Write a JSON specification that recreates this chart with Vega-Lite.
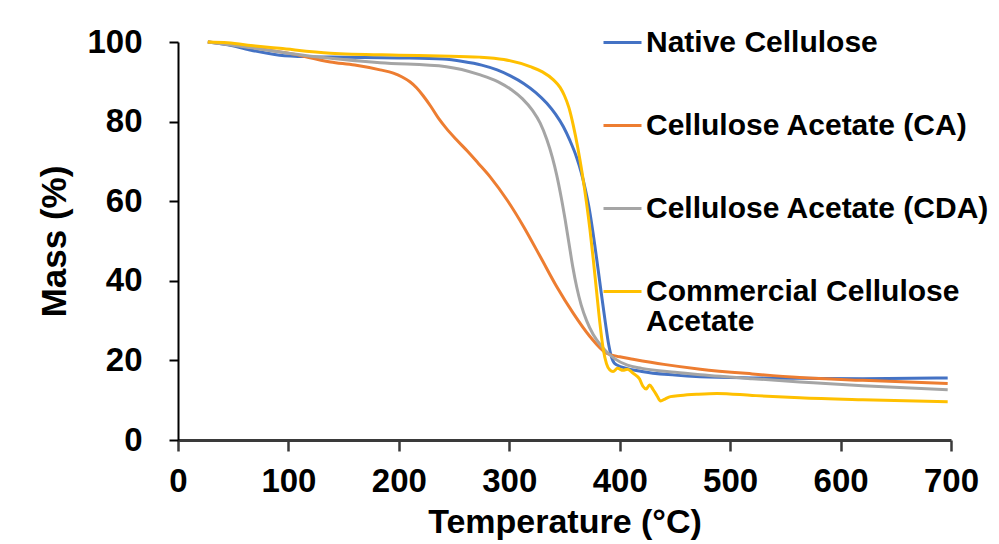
{
  "$schema": "https://vega.github.io/schema/vega-lite/v6.json",
  "width": 773,
  "height": 398,
  "autosize": {"type": "none"},
  "padding": {"left": 178, "top": 42, "right": 48, "bottom": 104},
  "background": "white",
  "config": {
    "view": {"stroke": null},
    "font": "Liberation Sans"
  },
  "data": {
    "values": [
      {"s": "Native Cellulose", "T": 27, "M": 100},
      {"s": "Native Cellulose", "T": 45, "M": 99.3},
      {"s": "Native Cellulose", "T": 65, "M": 98},
      {"s": "Native Cellulose", "T": 92, "M": 96.7},
      {"s": "Native Cellulose", "T": 120, "M": 96.3},
      {"s": "Native Cellulose", "T": 138, "M": 96.2},
      {"s": "Native Cellulose", "T": 200, "M": 96},
      {"s": "Native Cellulose", "T": 240, "M": 95.7},
      {"s": "Native Cellulose", "T": 258, "M": 95.1},
      {"s": "Native Cellulose", "T": 275, "M": 94.2},
      {"s": "Native Cellulose", "T": 289, "M": 93},
      {"s": "Native Cellulose", "T": 301, "M": 91.5},
      {"s": "Native Cellulose", "T": 313, "M": 89.6},
      {"s": "Native Cellulose", "T": 324, "M": 87.3},
      {"s": "Native Cellulose", "T": 334, "M": 84.6},
      {"s": "Native Cellulose", "T": 342, "M": 81.8},
      {"s": "Native Cellulose", "T": 349, "M": 78.7},
      {"s": "Native Cellulose", "T": 355, "M": 75.2},
      {"s": "Native Cellulose", "T": 361, "M": 71},
      {"s": "Native Cellulose", "T": 365, "M": 67.4},
      {"s": "Native Cellulose", "T": 369, "M": 62.8},
      {"s": "Native Cellulose", "T": 372, "M": 58.7},
      {"s": "Native Cellulose", "T": 375, "M": 53.6},
      {"s": "Native Cellulose", "T": 379, "M": 45.8},
      {"s": "Native Cellulose", "T": 383, "M": 37.5},
      {"s": "Native Cellulose", "T": 387, "M": 29.5},
      {"s": "Native Cellulose", "T": 390, "M": 24},
      {"s": "Native Cellulose", "T": 393, "M": 20.5},
      {"s": "Native Cellulose", "T": 397, "M": 18.9},
      {"s": "Native Cellulose", "T": 420, "M": 17.2},
      {"s": "Native Cellulose", "T": 450, "M": 16.3},
      {"s": "Native Cellulose", "T": 473, "M": 15.9},
      {"s": "Native Cellulose", "T": 520, "M": 15.6},
      {"s": "Native Cellulose", "T": 563, "M": 15.5},
      {"s": "Native Cellulose", "T": 620, "M": 15.4},
      {"s": "Native Cellulose", "T": 697, "M": 15.6},
      {"s": "Cellulose Acetate (CA)", "T": 27, "M": 100},
      {"s": "Cellulose Acetate (CA)", "T": 50, "M": 99.3},
      {"s": "Cellulose Acetate (CA)", "T": 75, "M": 98.3},
      {"s": "Cellulose Acetate (CA)", "T": 100, "M": 97.2},
      {"s": "Cellulose Acetate (CA)", "T": 138, "M": 95},
      {"s": "Cellulose Acetate (CA)", "T": 160, "M": 94.2},
      {"s": "Cellulose Acetate (CA)", "T": 183, "M": 93},
      {"s": "Cellulose Acetate (CA)", "T": 195, "M": 92.2},
      {"s": "Cellulose Acetate (CA)", "T": 203, "M": 91.2},
      {"s": "Cellulose Acetate (CA)", "T": 210, "M": 90},
      {"s": "Cellulose Acetate (CA)", "T": 216, "M": 88.5},
      {"s": "Cellulose Acetate (CA)", "T": 222, "M": 86.5},
      {"s": "Cellulose Acetate (CA)", "T": 229, "M": 83.8},
      {"s": "Cellulose Acetate (CA)", "T": 236, "M": 80.8},
      {"s": "Cellulose Acetate (CA)", "T": 243, "M": 78.3},
      {"s": "Cellulose Acetate (CA)", "T": 252, "M": 75.5},
      {"s": "Cellulose Acetate (CA)", "T": 262, "M": 72.6},
      {"s": "Cellulose Acetate (CA)", "T": 272, "M": 69.5},
      {"s": "Cellulose Acetate (CA)", "T": 283, "M": 66},
      {"s": "Cellulose Acetate (CA)", "T": 298, "M": 60.3},
      {"s": "Cellulose Acetate (CA)", "T": 313, "M": 53.6},
      {"s": "Cellulose Acetate (CA)", "T": 328, "M": 46.1},
      {"s": "Cellulose Acetate (CA)", "T": 343, "M": 38.5},
      {"s": "Cellulose Acetate (CA)", "T": 358, "M": 31.8},
      {"s": "Cellulose Acetate (CA)", "T": 373, "M": 26},
      {"s": "Cellulose Acetate (CA)", "T": 388, "M": 21.8},
      {"s": "Cellulose Acetate (CA)", "T": 400, "M": 20.9},
      {"s": "Cellulose Acetate (CA)", "T": 412, "M": 20.3},
      {"s": "Cellulose Acetate (CA)", "T": 440, "M": 19},
      {"s": "Cellulose Acetate (CA)", "T": 473, "M": 17.8},
      {"s": "Cellulose Acetate (CA)", "T": 520, "M": 16.6},
      {"s": "Cellulose Acetate (CA)", "T": 563, "M": 15.7},
      {"s": "Cellulose Acetate (CA)", "T": 620, "M": 15},
      {"s": "Cellulose Acetate (CA)", "T": 697, "M": 14.2},
      {"s": "Cellulose Acetate (CDA)", "T": 27, "M": 100},
      {"s": "Cellulose Acetate (CDA)", "T": 50, "M": 99.2},
      {"s": "Cellulose Acetate (CDA)", "T": 75, "M": 98.2},
      {"s": "Cellulose Acetate (CDA)", "T": 100, "M": 97.2},
      {"s": "Cellulose Acetate (CDA)", "T": 138, "M": 95.9},
      {"s": "Cellulose Acetate (CDA)", "T": 183, "M": 94.8},
      {"s": "Cellulose Acetate (CDA)", "T": 243, "M": 93.8},
      {"s": "Cellulose Acetate (CDA)", "T": 273, "M": 91.8},
      {"s": "Cellulose Acetate (CDA)", "T": 290, "M": 90},
      {"s": "Cellulose Acetate (CDA)", "T": 302, "M": 88},
      {"s": "Cellulose Acetate (CDA)", "T": 312, "M": 85.7},
      {"s": "Cellulose Acetate (CDA)", "T": 321, "M": 82.8},
      {"s": "Cellulose Acetate (CDA)", "T": 328, "M": 79.6},
      {"s": "Cellulose Acetate (CDA)", "T": 334, "M": 75.5},
      {"s": "Cellulose Acetate (CDA)", "T": 339, "M": 71},
      {"s": "Cellulose Acetate (CDA)", "T": 343, "M": 66.5},
      {"s": "Cellulose Acetate (CDA)", "T": 347, "M": 61},
      {"s": "Cellulose Acetate (CDA)", "T": 350.5, "M": 55.5},
      {"s": "Cellulose Acetate (CDA)", "T": 354, "M": 49.5},
      {"s": "Cellulose Acetate (CDA)", "T": 357.5, "M": 43.5},
      {"s": "Cellulose Acetate (CDA)", "T": 361, "M": 38.5},
      {"s": "Cellulose Acetate (CDA)", "T": 365, "M": 34},
      {"s": "Cellulose Acetate (CDA)", "T": 370, "M": 30},
      {"s": "Cellulose Acetate (CDA)", "T": 376, "M": 26.5},
      {"s": "Cellulose Acetate (CDA)", "T": 384, "M": 23.4},
      {"s": "Cellulose Acetate (CDA)", "T": 395, "M": 20.5},
      {"s": "Cellulose Acetate (CDA)", "T": 407, "M": 18.8},
      {"s": "Cellulose Acetate (CDA)", "T": 420, "M": 18},
      {"s": "Cellulose Acetate (CDA)", "T": 450, "M": 17},
      {"s": "Cellulose Acetate (CDA)", "T": 473, "M": 16.4},
      {"s": "Cellulose Acetate (CDA)", "T": 520, "M": 15.4},
      {"s": "Cellulose Acetate (CDA)", "T": 563, "M": 14.6},
      {"s": "Cellulose Acetate (CDA)", "T": 620, "M": 13.6},
      {"s": "Cellulose Acetate (CDA)", "T": 697, "M": 12.6},
      {"s": "Commercial Cellulose Acetate", "T": 27, "M": 100},
      {"s": "Commercial Cellulose Acetate", "T": 45, "M": 99.8},
      {"s": "Commercial Cellulose Acetate", "T": 70, "M": 99},
      {"s": "Commercial Cellulose Acetate", "T": 92, "M": 98.4},
      {"s": "Commercial Cellulose Acetate", "T": 138, "M": 97.2},
      {"s": "Commercial Cellulose Acetate", "T": 200, "M": 96.7},
      {"s": "Commercial Cellulose Acetate", "T": 237, "M": 96.5},
      {"s": "Commercial Cellulose Acetate", "T": 273, "M": 96.2},
      {"s": "Commercial Cellulose Acetate", "T": 295, "M": 95.6},
      {"s": "Commercial Cellulose Acetate", "T": 319, "M": 93.8},
      {"s": "Commercial Cellulose Acetate", "T": 330, "M": 92.5},
      {"s": "Commercial Cellulose Acetate", "T": 340, "M": 90.5},
      {"s": "Commercial Cellulose Acetate", "T": 346, "M": 88.6},
      {"s": "Commercial Cellulose Acetate", "T": 350, "M": 86.5},
      {"s": "Commercial Cellulose Acetate", "T": 354, "M": 83.5},
      {"s": "Commercial Cellulose Acetate", "T": 358, "M": 79},
      {"s": "Commercial Cellulose Acetate", "T": 362, "M": 73.5},
      {"s": "Commercial Cellulose Acetate", "T": 366, "M": 67},
      {"s": "Commercial Cellulose Acetate", "T": 370, "M": 59.5},
      {"s": "Commercial Cellulose Acetate", "T": 373, "M": 53},
      {"s": "Commercial Cellulose Acetate", "T": 376, "M": 45.5},
      {"s": "Commercial Cellulose Acetate", "T": 379, "M": 37.5},
      {"s": "Commercial Cellulose Acetate", "T": 382, "M": 29.5},
      {"s": "Commercial Cellulose Acetate", "T": 385, "M": 23},
      {"s": "Commercial Cellulose Acetate", "T": 388, "M": 19.2},
      {"s": "Commercial Cellulose Acetate", "T": 391, "M": 17.6},
      {"s": "Commercial Cellulose Acetate", "T": 394, "M": 17.2},
      {"s": "Commercial Cellulose Acetate", "T": 398, "M": 18},
      {"s": "Commercial Cellulose Acetate", "T": 403, "M": 17.5},
      {"s": "Commercial Cellulose Acetate", "T": 407, "M": 17.8},
      {"s": "Commercial Cellulose Acetate", "T": 412, "M": 16.8},
      {"s": "Commercial Cellulose Acetate", "T": 418, "M": 15.3},
      {"s": "Commercial Cellulose Acetate", "T": 421, "M": 13.5},
      {"s": "Commercial Cellulose Acetate", "T": 424, "M": 12.8},
      {"s": "Commercial Cellulose Acetate", "T": 427, "M": 13.8},
      {"s": "Commercial Cellulose Acetate", "T": 430, "M": 12.8},
      {"s": "Commercial Cellulose Acetate", "T": 434, "M": 11},
      {"s": "Commercial Cellulose Acetate", "T": 437, "M": 9.8},
      {"s": "Commercial Cellulose Acetate", "T": 441, "M": 10.3},
      {"s": "Commercial Cellulose Acetate", "T": 446, "M": 10.9},
      {"s": "Commercial Cellulose Acetate", "T": 455, "M": 11.2},
      {"s": "Commercial Cellulose Acetate", "T": 470, "M": 11.5},
      {"s": "Commercial Cellulose Acetate", "T": 488, "M": 11.7},
      {"s": "Commercial Cellulose Acetate", "T": 520, "M": 11.2},
      {"s": "Commercial Cellulose Acetate", "T": 563, "M": 10.6},
      {"s": "Commercial Cellulose Acetate", "T": 620, "M": 10.1},
      {"s": "Commercial Cellulose Acetate", "T": 697, "M": 9.6}
    ]
  },
  "mark": {"type": "line", "strokeWidth": 3, "interpolate": "monotone"},
  "encoding": {
    "x": {
      "field": "T",
      "type": "quantitative",
      "scale": {"domain": [0, 700], "nice": false},
      "axis": {
        "title": "Temperature (°C)",
        "values": [0, 100, 200, 300, 400, 500, 600, 700],
        "grid": false,
        "domainColor": "#3a3a3a",
        "domainWidth": 3,
        "tickColor": "#3a3a3a",
        "tickWidth": 2.5,
        "tickSize": 11,
        "labelFont": "Liberation Sans",
        "labelFontSize": 33,
        "labelFontWeight": "bold",
        "labelColor": "black",
        "labelPadding": 14,
        "labelFlush": false,
        "titleFont": "Liberation Sans",
        "titleFontSize": 34,
        "titleFontWeight": "bold",
        "titleColor": "black",
        "titlePadding": 7
      }
    },
    "y": {
      "field": "M",
      "type": "quantitative",
      "scale": {"domain": [0, 100], "nice": false},
      "axis": {
        "title": "Mass (%)",
        "values": [0, 20, 40, 60, 80, 100],
        "grid": false,
        "domainColor": "black",
        "domainWidth": 2,
        "tickColor": "black",
        "tickWidth": 2,
        "tickSize": 9,
        "labelFont": "Liberation Sans",
        "labelFontSize": 33,
        "labelFontWeight": "bold",
        "labelColor": "black",
        "labelPadding": 27,
        "labelFlush": false,
        "titleFont": "Liberation Sans",
        "titleFontSize": 35,
        "titleFontWeight": "bold",
        "titleColor": "black",
        "titlePadding": 14
      }
    },
    "color": {
      "field": "s",
      "type": "nominal",
      "scale": {
        "domain": ["Native Cellulose", "Cellulose Acetate (CA)", "Cellulose Acetate (CDA)", "Commercial Cellulose Acetate"],
        "range": ["#4472C4", "#ED7D31", "#A5A5A5", "#FFC000"]
      },
      "legend": {
        "title": null,
        "orient": "none",
        "legendX": 424,
        "legendY": -20,
        "direction": "vertical",
        "symbolType": "stroke",
        "symbolSize": 1444,
        "symbolStrokeWidth": 3,
        "labelFont": "Liberation Sans",
        "labelFontSize": 30,
        "labelFontWeight": "bold",
        "labelColor": "black",
        "labelLimit": 600,
        "labelOffset": 3,
        "rowPadding": 47,
        "padding": 0,
        "labelExpr": "datum.label == 'Commercial Cellulose Acetate' ? ['Commercial Cellulose', 'Acetate'] : datum.label",
        "encode": {
          "labels": {
            "update": {
              "lineHeight": {"value": 30}
            }
          }
        }
      }
    }
  }
}
